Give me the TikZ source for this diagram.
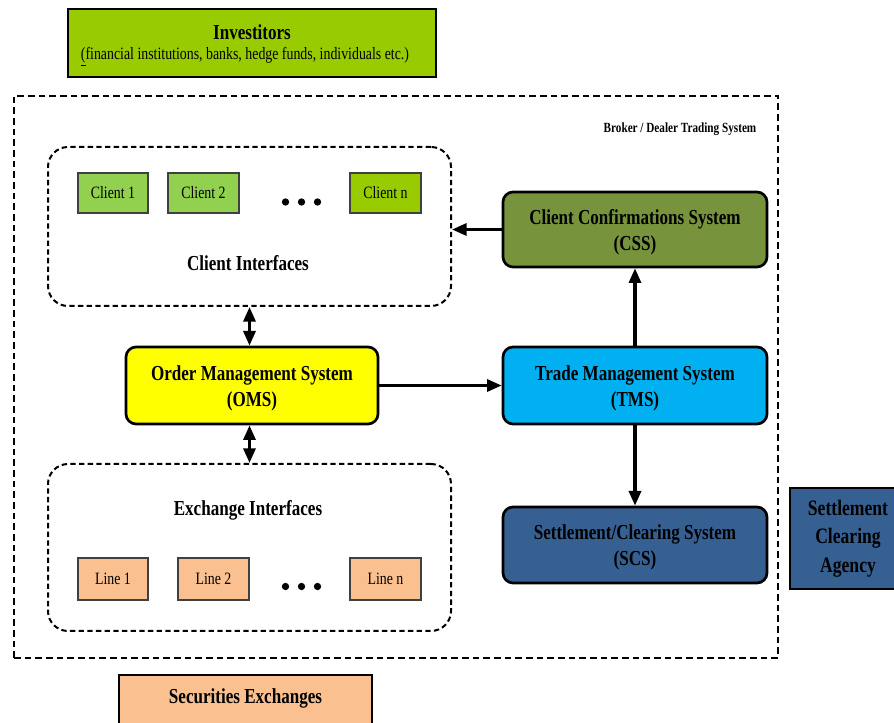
\documentclass[tikz,border=0pt]{standalone}
\usepackage{fontspec}
\setmainfont{Liberation Serif}[FakeStretch=0.8]
\usetikzlibrary{arrows.meta}

\definecolor{invgreen}{HTML}{99CC00}
\definecolor{clientgreen}{HTML}{92D050}
\definecolor{cssgreen}{HTML}{77933C}
\definecolor{tmsblue}{HTML}{00B0F0}
\definecolor{scsblue}{HTML}{376092}
\definecolor{peach}{HTML}{FAC090}
\definecolor{omsyellow}{HTML}{FFFF00}

\newcommand\titlefont{\fontsize{16}{19.5}\selectfont\bfseries}
\newcommand\agencyfont{\fontsize{16.5}{21}\selectfont\bfseries}
\newcommand\itemfont{\fontsize{13}{15}\selectfont}
\newcommand\notefont{\fontsize{13}{15}\selectfont}
\newcommand\smallbold{\fontsize{10.5}{12}\selectfont\bfseries}

\begin{document}
\begin{tikzpicture}[x=0.75pt,y=-0.75pt,
  sz/.style 2 args={minimum width=#1*0.75pt, minimum height=#2*0.75pt, inner sep=0pt},
  sysbox/.style={draw=black, line width=2pt, rounded corners=7.5pt},
  systext/.style={align=center, font=\titlefont},
  flatbox/.style={draw=black, line width=1.5pt, align=center},
  itembox/.style={draw=black!75, line width=1pt, font=\itemfont},
  groupbox/.style={draw=black, line width=1.5pt, dash pattern=on 4pt off 2.5pt, rounded corners=15pt},
  outerbox/.style={draw=black, line width=2pt, dash pattern=on 5pt off 3pt},
  flow/.style={line width=2.4pt, -{Triangle[length=11pt,width=9pt]}},
  bothflow/.style={line width=2.4pt, {Triangle[length=11pt,width=9pt]}-{Triangle[length=11pt,width=9pt]}},
  dot/.style={circle, fill=black, inner sep=0pt, minimum size=5.5pt},
  label/.style={font=\titlefont}
]
\useasboundingbox (0,0) rectangle (894,723);

% investors
\node[flatbox, fill=invgreen, sz={368}{68}] (inv) at (252,43) {};
\node[label] (invtitle) at (252,32) {Investitors};
\node[font=\notefont] (invnote) at (245,57) {\underline{(}financial institutions, banks, hedge funds, individuals etc.)};

% broker / dealer frame
\node[outerbox, sz={764}{562}] (bd) at (396,377) {};
\node[font=\smallbold] (bdlabel) at (680,129) {Broker / Dealer Trading System};

% client interfaces
\node[groupbox, sz={403}{159}] (ci) at (249.5,226.5) {};
\node[itembox, fill=clientgreen, sz={70}{40}] (c1) at (113,193) {Client 1};
\node[itembox, fill=clientgreen, sz={71}{40}] (c2) at (203.5,193) {Client 2};
\node[itembox, fill=invgreen, sz={71}{40}] (cn) at (385.5,193) {Client n};
\node[dot] (cd1) at (285.5,202) {};
\node[dot] (cd2) at (301.5,202) {};
\node[dot] (cd3) at (317.5,202) {};
\node[label] (cilabel) at (248,263) {Client Interfaces};

% exchange interfaces
\node[groupbox, sz={403}{167}] (ei) at (249.5,547.5) {};
\node[label] (eilabel) at (248,510) {Exchange Interfaces};
\node[itembox, fill=peach, sz={70}{42}] (l1) at (113,579) {Line 1};
\node[itembox, fill=peach, sz={71}{42}] (l2) at (213.5,579) {Line 2};
\node[itembox, fill=peach, sz={71}{42}] (ln) at (385.5,579) {Line n};
\node[dot] (ed1) at (285.5,586.5) {};
\node[dot] (ed2) at (301.5,586.5) {};
\node[dot] (ed3) at (317.5,586.5) {};

% systems
\node[sysbox, fill=omsyellow, sz={252}{77}] (oms) at (252,385.5) {};
\node[systext] (omstext) at ([yshift=-2.5pt]oms.center) {Order Management System\\(OMS)};
\node[sysbox, fill=tmsblue, sz={264}{77}] (tms) at (635,385.5) {};
\node[systext] (tmstext) at ([yshift=-2.5pt]tms.center) {Trade Management System\\(TMS)};
\node[sysbox, fill=cssgreen, sz={264}{75}] (css) at (635,229.5) {};
\node[systext] (csstext) at ([yshift=-2pt]css.center) {Client Confirmations System\\(CSS)};
\node[sysbox, fill=scsblue, sz={264}{76}] (scs) at (635,545) {};
\node[systext] (scstext) at ([yshift=-2pt]scs.center) {Settlement/Clearing System\\(SCS)};

% outside parties
\node[flatbox, fill=scsblue, sz={116}{101}, font=\agencyfont, text width=110*0.75pt] (sca) at (848,538.5) {Settlement\\[0.5pt]Clearing\\[0.5pt]Agency};
\node[flatbox, fill=peach, sz={253}{60}] (se) at (245.5,705) {};
\node[label] (selabel) at (245.5,698) {Securities Exchanges};

% flows
\draw[bothflow] (ci.south) -- (ci.south |- oms.north);
\draw[bothflow] (ei.north) -- (ei.north |- oms.south);
\draw[flow] (oms.east) -- (tms.west);
\draw[flow] (tms.north) -- (css.south);
\draw[flow] (tms.south) -- (scs.north);
\draw[flow] (css.west) -- (css.west -| ci.east);
\end{tikzpicture}
\end{document}
